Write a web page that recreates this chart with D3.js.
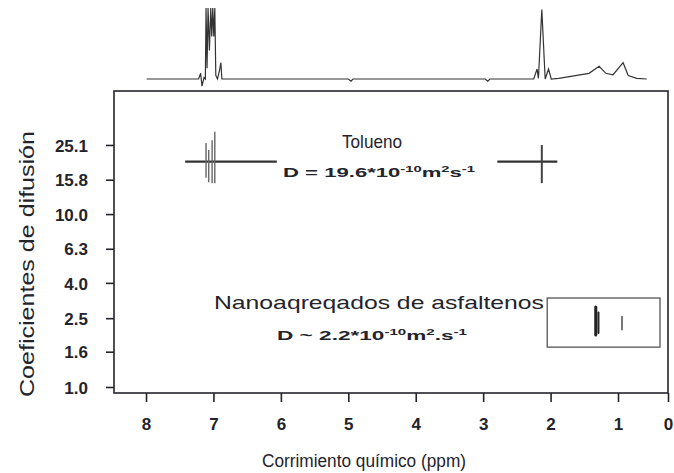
<!DOCTYPE html>
<html><head><meta charset="utf-8">
<script src="https://cdn.jsdelivr.net/npm/d3@7"></script>
<style>html,body{margin:0;padding:0;background:#fff;}svg{display:block;}</style>
</head><body>
<script>
// ---- data ----
const xTickValues = [8, 7, 6, 5, 4, 3, 2, 1, 0];
const yTickValues = [1.0, 1.6, 2.5, 4.0, 6.3, 10.0, 15.8, 25.1];
// 1D spectrum on top (ppm, relative intensity)
const specPpm = [7.99, 7.60, 7.22, 7.19, 7.17, 7.14, 7.12, 7.11, 7.095, 7.08, 7.06, 7.04, 7.025, 7.01, 6.995, 6.98, 6.965, 6.94, 6.91, 6.89, 6.875, 6.80, 5.00, 4.96, 4.93, 2.97, 2.93, 2.90, 2.25, 2.20, 2.18, 2.13, 2.08, 2.03, 1.99, 1.88, 1.43, 1.28, 1.18, 1.074, 0.898, 0.796, 0.628, 0.424];
const specInt = [0, 0, 0, 8, -10, 2, 0, 100, 15, 100, 40, 100, 60, 100, 60, 100, 5, 0, 12, 23, 0, 0, 0, -3, 0, 0, -3, 0, 0, 14, 1, 98, 0, 14, 0, 1, 8, 18, 8, 6, 23, 5, 1, 0];
// toluene: horizontal diffusion lines (ppm from, ppm to, D)
const tolLinePpm0 = [7.42, 2.79];
const tolLinePpm1 = [6.06, 1.90];
const tolLineD = [20.1, 20.1];
// toluene: vertical cross-peak traces (ppm, D top, D bottom)
const tolPeakPpm = [7.11, 7.07, 7.02, 6.98, 2.13];
const tolPeakDTop = [25.8, 23.5, 26.7, 29.9, 25.1];
const tolPeakDBot = [16.2, 15.3, 15.1, 15.1, 15.1];
// asphaltene nanoaggregate signals
const asphPpm = [1.33, 1.29, 0.92];
const asphDTop = [2.9, 2.7, 2.55];
const asphDBot = [2.0, 2.05, 2.15];
// highlighting box (ppm range, D range)
const boxPpm = [2.05, 0.16];
const boxD = [3.27, 1.70];
const labels = {
  x: "Corrimiento químico (ppm)",
  y: "Coeficientes de difusión",
  tol: "Tolueno",
  asph: "Nanoaqreqados de asfaltenos"
};

// ---- drawing ----
(function () {
const W = 674, H = 473;
const ink = "#23232b";
const svg = d3.select("body").append("svg").attr("width", W).attr("height", H)
  .style("font-family", "'Liberation Sans', Arial, sans-serif");

const mL = 114, mR = 668, mT = 91, mB = 393;
const x = d3.scaleLinear().domain([8.475, 1, 0]).range([mL, 618, mR]);
const y = d3.scaleLog().domain([0.923, 51.5]).range([mB, mT]);
const yi = d3.scaleLinear().domain([0, 100]).range([79, 8]);

// top spectrum
const spec = specPpm.map((p, i) => [p, specInt[i]]);
svg.append("path").datum(spec)
  .attr("d", d3.line().x(d => x(d[0])).y(d => yi(d[1])))
  .attr("fill", "none").attr("stroke", "#333").attr("stroke-width", 1.2);

// frame
svg.append("rect").attr("x", mL).attr("y", mT).attr("width", mR - mL).attr("height", mB - mT)
  .attr("fill", "none").attr("stroke", ink).attr("stroke-width", 1.6);

// axes
const gx = svg.append("g").attr("transform", `translate(0,${mB})`)
  .call(d3.axisBottom(x).tickValues(xTickValues).tickFormat(d3.format("d")).tickSize(9).tickSizeOuter(0));
gx.select(".domain").remove();
gx.selectAll(".tick line").attr("stroke", ink).attr("stroke-width", 1.6);
gx.selectAll(".tick text").attr("y", 37).attr("dy", 0).attr("fill", ink)
  .style("font-size", "17px").style("font-weight", "bold");

const gy = svg.append("g").attr("transform", `translate(${mL},0)`)
  .call(d3.axisLeft(y).tickValues(yTickValues).tickFormat(d3.format(".1f")).tickSize(8).tickPadding(18).tickSizeOuter(0));
gy.select(".domain").remove();
gy.selectAll(".tick line").attr("stroke", ink).attr("stroke-width", 1.6);
gy.selectAll(".tick text").attr("fill", ink).attr("dy", "0.36em")
  .style("font-size", "17px").style("font-weight", "bold");

// axis titles
svg.append("text").attr("x", 364).attr("y", 467).attr("text-anchor", "middle")
  .attr("fill", ink).style("font-size", "18px")
  .attr("textLength", 204).attr("lengthAdjust", "spacingAndGlyphs").text(labels.x);
svg.append("text").attr("transform", "translate(34,264) rotate(-90)").attr("text-anchor", "middle")
  .attr("fill", ink).style("font-size", "21px")
  .attr("textLength", 266).attr("lengthAdjust", "spacingAndGlyphs").text(labels.y);

// toluene signals
svg.selectAll(".tolh").data(tolLineD).join("line")
  .attr("x1", (d, i) => x(tolLinePpm0[i])).attr("x2", (d, i) => x(tolLinePpm1[i]))
  .attr("y1", d => y(d)).attr("y2", d => y(d))
  .attr("stroke", "#333").attr("stroke-width", 2.4);
svg.selectAll(".tolv").data(tolPeakPpm).join("line")
  .attr("x1", d => x(d)).attr("x2", d => x(d))
  .attr("y1", (d, i) => y(tolPeakDTop[i])).attr("y2", (d, i) => y(tolPeakDBot[i]))
  .attr("stroke", (d, i) => i === 4 ? "#444" : "#666").attr("stroke-width", (d, i) => i === 4 ? 2 : 1.4);

// asphaltene box and signals
svg.append("rect").attr("x", x(boxPpm[0])).attr("y", y(boxD[0]))
  .attr("width", x(boxPpm[1]) - x(boxPpm[0])).attr("height", y(boxD[1]) - y(boxD[0]))
  .attr("fill", "none").attr("stroke", "#555").attr("stroke-width", 1.3);
svg.selectAll(".asph").data(asphPpm).join("line")
  .attr("x1", d => x(d)).attr("x2", d => x(d))
  .attr("y1", (d, i) => y(asphDTop[i])).attr("y2", (d, i) => y(asphDBot[i]))
  .attr("stroke", (d, i) => i === 2 ? "#777" : "#222")
  .attr("stroke-width", (d, i) => i === 0 ? 3 : 2).attr("stroke-linecap", "round");

// annotations
svg.append("text").attr("x", 372).attr("y", 148).attr("text-anchor", "middle")
  .attr("fill", ink).style("font-size", "19px")
  .attr("textLength", 60).attr("lengthAdjust", "spacingAndGlyphs").text(labels.tol);

function dText(xs, yb, len, parts) {
  const t = svg.append("text").attr("x", xs).attr("y", yb).attr("fill", ink)
    .style("font-size", "13.5px").style("font-weight", "bold")
    .attr("textLength", len).attr("lengthAdjust", "spacingAndGlyphs");
  parts.forEach(p => {
    const s = t.append("tspan").text(p[0]);
    if (p[1]) s.style("font-size", "9px").attr("baseline-shift", "super");
  });
}
dText(283, 177, 192, [["D = 19.6*10"], ["-10", 1], ["m"], ["2", 1], ["s"], ["-1", 1]]);

svg.append("text").attr("x", 214).attr("y", 309).attr("fill", ink).style("font-size", "19px")
  .attr("textLength", 330).attr("lengthAdjust", "spacingAndGlyphs").text(labels.asph);
dText(277, 340, 190, [["D ~ 2.2*10"], ["-10", 1], ["m"], ["2", 1], [".s"], ["-1", 1]]);
})();
</script>
</body></html>
